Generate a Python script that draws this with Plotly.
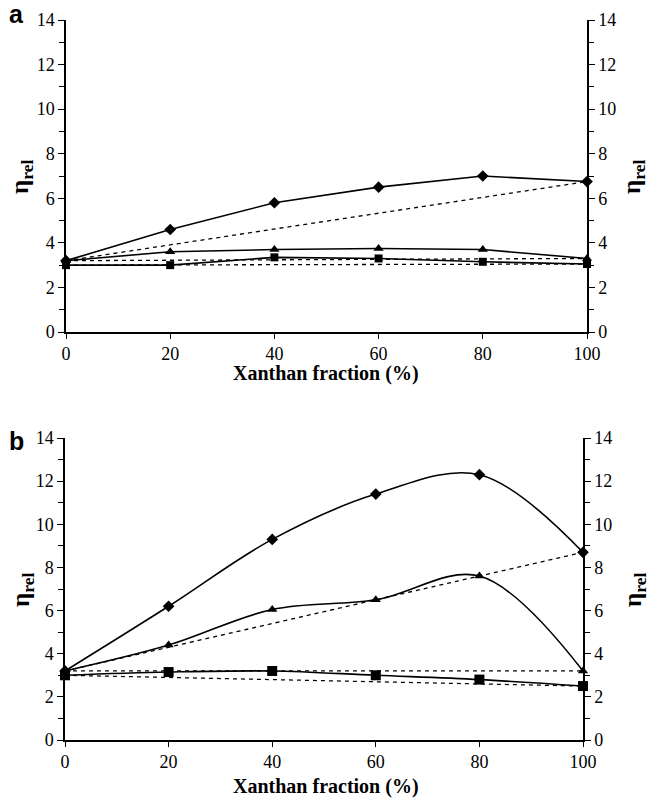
import plotly.graph_objects as go

x_frac = [0, 20, 40, 60, 80, 100]

# Panel a
a_diamond = [3.2, 4.6, 5.8, 6.5, 7.0, 6.75]
a_triangle = [3.2, 3.6, 3.7, 3.75, 3.7, 3.3]
a_square = [3.0, 3.0, 3.35, 3.3, 3.15, 3.05]

# Panel b
b_diamond = [3.2, 6.2, 9.3, 11.4, 12.3, 8.7]
b_triangle = [3.2, 4.4, 6.05, 6.5, 7.6, 3.2]
b_square = [3.0, 3.15, 3.2, 3.0, 2.8, 2.5]

y_ticks = [0, 2, 4, 6, 8, 10, 12, 14]
x_ticks = [0, 20, 40, 60, 80, 100]

SERIF = "Liberation Serif"
SANS = "Liberation Sans"

fig = go.Figure()

panels = [
    ("x", "y", [a_diamond, a_triangle, a_square], False, [9, 9, 8]),
    ("x2", "y3", [b_diamond, b_triangle, b_square], True, [9, 9, 10]),
]
symbols = ["diamond", "triangle-up", "square"]

for xa, ya, series, smooth, sizes in panels:
    for s in series:
        fig.add_trace(go.Scatter(
            x=[x_frac[0], x_frac[-1]], y=[s[0], s[-1]], xaxis=xa, yaxis=ya,
            mode="lines", line=dict(color="black", width=1.3, dash="4px,4px"),
            showlegend=False, hoverinfo="skip", cliponaxis=False))
    for s, sym, sz in zip(series, symbols, sizes):
        fig.add_trace(go.Scatter(
            x=x_frac, y=s, xaxis=xa, yaxis=ya, mode="lines+markers",
            line=dict(color="black", width=1.6,
                      shape="spline" if smooth else "linear", smoothing=1.0),
            marker=dict(symbol=sym, size=sz, color="black"),
            showlegend=False, cliponaxis=False))

def xaxis(domain, anchor):
    return dict(domain=domain, anchor=anchor, range=[0, 100], tickvals=x_ticks,
                ticks="outside", ticklen=5, tickwidth=1.2, tickcolor="black",
                showline=True, linecolor="black", linewidth=1.5, showgrid=False,
                zeroline=False, automargin=False,
                tickfont=dict(family=SERIF, size=18, color="black"))

def yaxis(domain, anchor, side="left", overlaying=None):
    d = dict(domain=domain, anchor=anchor, range=[0, 14], tickvals=y_ticks,
             ticks="outside", ticklen=6, tickwidth=1.2, tickcolor="black",
             showline=True, linecolor="black", linewidth=1.5, showgrid=False,
             zeroline=False, side=side, automargin=False,
             tickfont=dict(family=SERIF, size=18, color="black"),
             minor=dict(tickvals=[1, 3, 5, 7, 9, 11, 13], ticks="outside",
                        ticklen=5, tickwidth=1.2, tickcolor="black",
                        showgrid=False))
    if overlaying:
        d["overlaying"] = overlaying
    return d

ya_dom = [1 - 332 / 800, 1 - 20 / 800]
yb_dom = [1 - 740 / 800, 1 - 438 / 800]
xa_dom = [66 / 652, 587 / 652]
xb_dom = [65 / 652, 583 / 652]

fig.update_layout(
    width=652, height=800,
    margin=dict(l=0, r=0, t=0, b=0, autoexpand=False),
    paper_bgcolor="white", plot_bgcolor="white",
    font=dict(family=SERIF, color="black"),
    xaxis=xaxis(xa_dom, "y"),
    yaxis=yaxis(ya_dom, "x"),
    yaxis2=yaxis(ya_dom, "x", side="right", overlaying="y"),
    xaxis2=xaxis(xb_dom, "y3"),
    yaxis3=yaxis(yb_dom, "x2"),
    yaxis4=yaxis(yb_dom, "x2", side="right", overlaying="y3"),
)

# empty traces so right axes render
fig.add_trace(go.Scatter(x=[None], y=[None], xaxis="x", yaxis="y2", showlegend=False))
fig.add_trace(go.Scatter(x=[None], y=[None], xaxis="x2", yaxis="y4", showlegend=False))

ann = []
title_txt = "<b>η<sub>rel</sub></b>"
for yc in [177, 590]:
    for xc in [22, 634]:
        ann.append(dict(x=xc / 652, y=1 - yc / 800, xref="paper", yref="paper",
                        text=title_txt, textangle=-90, showarrow=False,
                        font=dict(family=SERIF, size=25, color="black"),
                        xanchor="center", yanchor="middle"))
for yc in [373, 786]:
    ann.append(dict(x=326 / 652, y=1 - yc / 800, xref="paper", yref="paper",
                    text="<b>Xanthan fraction (%)</b>", showarrow=False,
                    font=dict(family=SERIF, size=20, color="black"),
                    xanchor="center", yanchor="middle"))
ann.append(dict(x=16 / 652, y=1 - 14 / 800, xref="paper", yref="paper",
                text="<b>a</b>", showarrow=False,
                font=dict(family=SANS, size=25, color="black"),
                xanchor="center", yanchor="middle"))
ann.append(dict(x=16 / 652, y=1 - 441 / 800, xref="paper", yref="paper",
                text="<b>b</b>", showarrow=False,
                font=dict(family=SANS, size=25, color="black"),
                xanchor="center", yanchor="middle"))
fig.update_layout(annotations=ann)

fig.write_html("out.html", config={"displayModeBar": False},
               post_script="document.body.style.margin='0px';")
